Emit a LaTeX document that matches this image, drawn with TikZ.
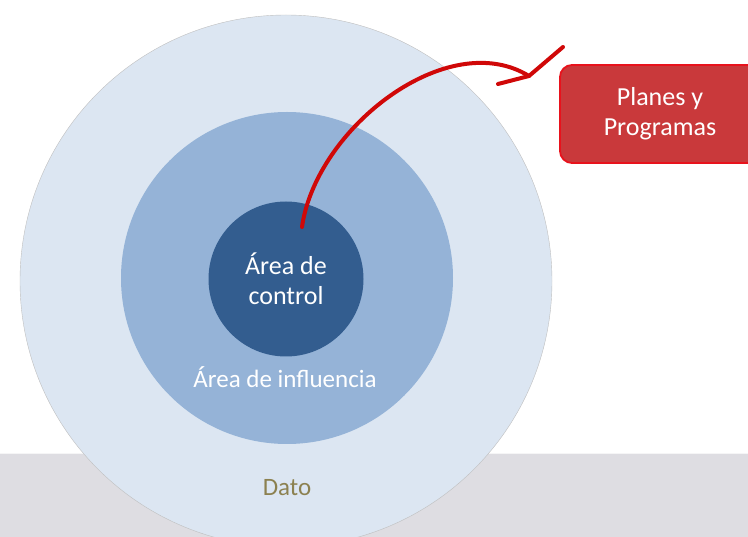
\documentclass[tikz,border=0pt]{standalone}
\usepackage{fontspec}
\setmainfont{Carlito}
\usetikzlibrary{positioning}
\definecolor{bandgray}{HTML}{DEDDE2}
\definecolor{datofill}{HTML}{DCE6F2}
\definecolor{influfill}{HTML}{95B3D7}
\definecolor{controlfill}{HTML}{335D8F}
\definecolor{datotext}{HTML}{8C8150}
\definecolor{boxfill}{HTML}{C9393B}
\definecolor{boxline}{HTML}{E8121C}
\definecolor{brush}{HTML}{D00808}

\begin{document}
\begin{tikzpicture}[x=1pt,y=-1pt,
  ring/.style={circle, inner sep=0pt},
  whitetext/.style={text=white, align=center, font=\fontsize{26}{30}\selectfont},
  brushline/.style={draw=brush, line width=4pt, line cap=round, line join=round}]
  \clip (0,0) rectangle (748,537);
  \fill[bandgray] (0,453) rectangle (748,537);
  \draw[white!70!bandgray, line width=1pt] (0,453.5) -- (748,453.5);

  \node[ring, fill=datofill, draw=black!25, minimum size=532pt] (dato) at (286,281) {};
  \node[ring, fill=influfill, minimum size=332pt] (influencia) at (287,278) {};
  \node[ring, fill=controlfill, minimum size=155pt] (control) at (286,279) {};

  \node[whitetext] (controltext) at (control) {Área de\\control};
  \node[whitetext, font=\fontsize{25}{28}\selectfont] (influtext) at (285,377) {Área de influencia};
  \node[text=datotext, font=\fontsize{25}{28}\selectfont] (datotext) at (287,488) {Dato};

  \node[draw=boxline, fill=boxfill, line width=1.8pt, rounded corners=12pt,
        minimum width=200pt, minimum height=98pt, whitetext] (planes) at (660,114) {Planes y\\Programas};

  \coordinate (start) at (302,227);
  \coordinate (tip) at (529,76);
  \coordinate (headleft) at (498,84);
  \coordinate (headright) at (563,47);
  \draw[brushline] (start) .. controls (316,128) and (448,26) .. (tip);
  \draw[brushline] (headleft) -- (tip) -- (headright);
\end{tikzpicture}
\end{document}
